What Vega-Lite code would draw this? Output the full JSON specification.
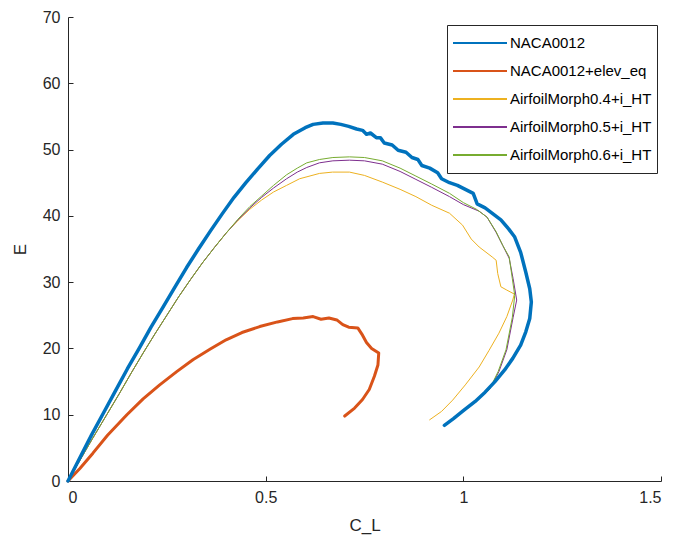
{
  "$schema": "https://vega.github.io/schema/vega-lite/v6.json",
  "autosize": "none",
  "width": 593,
  "height": 464,
  "padding": {"left": 68, "top": 17, "right": 15, "bottom": 63},
  "background": "white",
  "config": {
    "view": {"stroke": null},
    "font": "Liberation Sans",
    "axis": {
      "grid": false,
      "domainColor": "#262626",
      "tickColor": "#262626",
      "labelColor": "#262626",
      "titleColor": "#262626",
      "labelFont": "Liberation Sans",
      "titleFont": "Liberation Sans",
      "labelFontSize": 16,
      "titleFontSize": 17,
      "titleFontWeight": "normal",
      "tickSize": -5,
      "labelPadding": 13
    },
    "legend": {
      "labelFont": "Liberation Sans",
      "labelFontSize": 15,
      "labelColor": "#000000"
    }
  },
  "datasets": {
    "pts": [
      {"s": "NACA0012", "cl": 0, "e": 0},
      {"s": "NACA0012", "cl": 0.03, "e": 3.5},
      {"s": "NACA0012", "cl": 0.06, "e": 7.0},
      {"s": "NACA0012", "cl": 0.09, "e": 10.3},
      {"s": "NACA0012", "cl": 0.12, "e": 13.6},
      {"s": "NACA0012", "cl": 0.15, "e": 16.9},
      {"s": "NACA0012", "cl": 0.18, "e": 20.0},
      {"s": "NACA0012", "cl": 0.21, "e": 23.2},
      {"s": "NACA0012", "cl": 0.24, "e": 26.2},
      {"s": "NACA0012", "cl": 0.27, "e": 29.2},
      {"s": "NACA0012", "cl": 0.30, "e": 32.2},
      {"s": "NACA0012", "cl": 0.33, "e": 35.0},
      {"s": "NACA0012", "cl": 0.36, "e": 37.7},
      {"s": "NACA0012", "cl": 0.39, "e": 40.3},
      {"s": "NACA0012", "cl": 0.42, "e": 42.8},
      {"s": "NACA0012", "cl": 0.45, "e": 45.0},
      {"s": "NACA0012", "cl": 0.48, "e": 47.1},
      {"s": "NACA0012", "cl": 0.51, "e": 49.1},
      {"s": "NACA0012", "cl": 0.54, "e": 50.8},
      {"s": "NACA0012", "cl": 0.57, "e": 52.3},
      {"s": "NACA0012", "cl": 0.60, "e": 53.3},
      {"s": "NACA0012", "cl": 0.62, "e": 53.8},
      {"s": "NACA0012", "cl": 0.645, "e": 54.0},
      {"s": "NACA0012", "cl": 0.67, "e": 54.0},
      {"s": "NACA0012", "cl": 0.69, "e": 53.8},
      {"s": "NACA0012", "cl": 0.71, "e": 53.5},
      {"s": "NACA0012", "cl": 0.73, "e": 53.1},
      {"s": "NACA0012", "cl": 0.745, "e": 52.9},
      {"s": "NACA0012", "cl": 0.755, "e": 52.3},
      {"s": "NACA0012", "cl": 0.765, "e": 52.5},
      {"s": "NACA0012", "cl": 0.78, "e": 51.8},
      {"s": "NACA0012", "cl": 0.79, "e": 51.8},
      {"s": "NACA0012", "cl": 0.80, "e": 51.0},
      {"s": "NACA0012", "cl": 0.82, "e": 50.7},
      {"s": "NACA0012", "cl": 0.835, "e": 49.9},
      {"s": "NACA0012", "cl": 0.855, "e": 49.6},
      {"s": "NACA0012", "cl": 0.87, "e": 48.8},
      {"s": "NACA0012", "cl": 0.885, "e": 48.5},
      {"s": "NACA0012", "cl": 0.895, "e": 47.6},
      {"s": "NACA0012", "cl": 0.915, "e": 47.2},
      {"s": "NACA0012", "cl": 0.935, "e": 46.5},
      {"s": "NACA0012", "cl": 0.945, "e": 45.6},
      {"s": "NACA0012", "cl": 0.965, "e": 45.0},
      {"s": "NACA0012", "cl": 0.985, "e": 44.6},
      {"s": "NACA0012", "cl": 1.005, "e": 44.0},
      {"s": "NACA0012", "cl": 1.025, "e": 43.4},
      {"s": "NACA0012", "cl": 1.035, "e": 41.8},
      {"s": "NACA0012", "cl": 1.055, "e": 41.2},
      {"s": "NACA0012", "cl": 1.075, "e": 40.3},
      {"s": "NACA0012", "cl": 1.095, "e": 39.4},
      {"s": "NACA0012", "cl": 1.115, "e": 38.0},
      {"s": "NACA0012", "cl": 1.13, "e": 36.8},
      {"s": "NACA0012", "cl": 1.145, "e": 34.5},
      {"s": "NACA0012", "cl": 1.158, "e": 31.5},
      {"s": "NACA0012", "cl": 1.168, "e": 29.0},
      {"s": "NACA0012", "cl": 1.172, "e": 27.0},
      {"s": "NACA0012", "cl": 1.168, "e": 24.5},
      {"s": "NACA0012", "cl": 1.158, "e": 22.5},
      {"s": "NACA0012", "cl": 1.145, "e": 20.5},
      {"s": "NACA0012", "cl": 1.125, "e": 18.5},
      {"s": "NACA0012", "cl": 1.105, "e": 16.8},
      {"s": "NACA0012", "cl": 1.08, "e": 15.0},
      {"s": "NACA0012", "cl": 1.055, "e": 13.4},
      {"s": "NACA0012", "cl": 1.03, "e": 12.0},
      {"s": "NACA0012", "cl": 1.0, "e": 10.6},
      {"s": "NACA0012", "cl": 0.975, "e": 9.4},
      {"s": "NACA0012", "cl": 0.952, "e": 8.4},

      {"s": "NACA0012+elev_eq", "cl": 0, "e": 0},
      {"s": "NACA0012+elev_eq", "cl": 0.03, "e": 1.9},
      {"s": "NACA0012+elev_eq", "cl": 0.063, "e": 4.2},
      {"s": "NACA0012+elev_eq", "cl": 0.10, "e": 6.9},
      {"s": "NACA0012+elev_eq", "cl": 0.149, "e": 10.0},
      {"s": "NACA0012+elev_eq", "cl": 0.19, "e": 12.4},
      {"s": "NACA0012+elev_eq", "cl": 0.232, "e": 14.5},
      {"s": "NACA0012+elev_eq", "cl": 0.275, "e": 16.5},
      {"s": "NACA0012+elev_eq", "cl": 0.316, "e": 18.3},
      {"s": "NACA0012+elev_eq", "cl": 0.36, "e": 19.9},
      {"s": "NACA0012+elev_eq", "cl": 0.40, "e": 21.3},
      {"s": "NACA0012+elev_eq", "cl": 0.44, "e": 22.4},
      {"s": "NACA0012+elev_eq", "cl": 0.485, "e": 23.3},
      {"s": "NACA0012+elev_eq", "cl": 0.53, "e": 24.0},
      {"s": "NACA0012+elev_eq", "cl": 0.568, "e": 24.5},
      {"s": "NACA0012+elev_eq", "cl": 0.595, "e": 24.6},
      {"s": "NACA0012+elev_eq", "cl": 0.62, "e": 24.8},
      {"s": "NACA0012+elev_eq", "cl": 0.64, "e": 24.4},
      {"s": "NACA0012+elev_eq", "cl": 0.66, "e": 24.6},
      {"s": "NACA0012+elev_eq", "cl": 0.68, "e": 24.3},
      {"s": "NACA0012+elev_eq", "cl": 0.695, "e": 23.6},
      {"s": "NACA0012+elev_eq", "cl": 0.71, "e": 23.2},
      {"s": "NACA0012+elev_eq", "cl": 0.733, "e": 23.1},
      {"s": "NACA0012+elev_eq", "cl": 0.745, "e": 22.0},
      {"s": "NACA0012+elev_eq", "cl": 0.755, "e": 20.9},
      {"s": "NACA0012+elev_eq", "cl": 0.768, "e": 20.0},
      {"s": "NACA0012+elev_eq", "cl": 0.786, "e": 19.3},
      {"s": "NACA0012+elev_eq", "cl": 0.784, "e": 17.5},
      {"s": "NACA0012+elev_eq", "cl": 0.775, "e": 15.8},
      {"s": "NACA0012+elev_eq", "cl": 0.762, "e": 13.8},
      {"s": "NACA0012+elev_eq", "cl": 0.745, "e": 12.3},
      {"s": "NACA0012+elev_eq", "cl": 0.725, "e": 11.0},
      {"s": "NACA0012+elev_eq", "cl": 0.70, "e": 9.8},

      {"s": "AirfoilMorph0.4+i_HT", "cl": 0, "e": 0},
      {"s": "AirfoilMorph0.4+i_HT", "cl": 0.03, "e": 3.1},
      {"s": "AirfoilMorph0.4+i_HT", "cl": 0.06, "e": 6.2},
      {"s": "AirfoilMorph0.4+i_HT", "cl": 0.098, "e": 10.0},
      {"s": "AirfoilMorph0.4+i_HT", "cl": 0.13, "e": 13.2},
      {"s": "AirfoilMorph0.4+i_HT", "cl": 0.16, "e": 16.3},
      {"s": "AirfoilMorph0.4+i_HT", "cl": 0.19, "e": 19.3},
      {"s": "AirfoilMorph0.4+i_HT", "cl": 0.22, "e": 22.2},
      {"s": "AirfoilMorph0.4+i_HT", "cl": 0.25, "e": 25.0},
      {"s": "AirfoilMorph0.4+i_HT", "cl": 0.28, "e": 27.8},
      {"s": "AirfoilMorph0.4+i_HT", "cl": 0.31, "e": 30.4},
      {"s": "AirfoilMorph0.4+i_HT", "cl": 0.34, "e": 32.9},
      {"s": "AirfoilMorph0.4+i_HT", "cl": 0.37, "e": 35.2},
      {"s": "AirfoilMorph0.4+i_HT", "cl": 0.40, "e": 37.4},
      {"s": "AirfoilMorph0.4+i_HT", "cl": 0.43, "e": 39.3},
      {"s": "AirfoilMorph0.4+i_HT", "cl": 0.46, "e": 41.0},
      {"s": "AirfoilMorph0.4+i_HT", "cl": 0.49, "e": 42.4},
      {"s": "AirfoilMorph0.4+i_HT", "cl": 0.52, "e": 43.6},
      {"s": "AirfoilMorph0.4+i_HT", "cl": 0.553, "e": 44.6},
      {"s": "AirfoilMorph0.4+i_HT", "cl": 0.586, "e": 45.6},
      {"s": "AirfoilMorph0.4+i_HT", "cl": 0.636, "e": 46.4},
      {"s": "AirfoilMorph0.4+i_HT", "cl": 0.669, "e": 46.6},
      {"s": "AirfoilMorph0.4+i_HT", "cl": 0.712, "e": 46.6},
      {"s": "AirfoilMorph0.4+i_HT", "cl": 0.75, "e": 46.1},
      {"s": "AirfoilMorph0.4+i_HT", "cl": 0.795, "e": 45.1},
      {"s": "AirfoilMorph0.4+i_HT", "cl": 0.84, "e": 44.0},
      {"s": "AirfoilMorph0.4+i_HT", "cl": 0.88, "e": 42.9},
      {"s": "AirfoilMorph0.4+i_HT", "cl": 0.92, "e": 41.6},
      {"s": "AirfoilMorph0.4+i_HT", "cl": 0.965, "e": 40.4},
      {"s": "AirfoilMorph0.4+i_HT", "cl": 0.998, "e": 38.6},
      {"s": "AirfoilMorph0.4+i_HT", "cl": 1.02, "e": 36.5},
      {"s": "AirfoilMorph0.4+i_HT", "cl": 1.04, "e": 35.3},
      {"s": "AirfoilMorph0.4+i_HT", "cl": 1.073, "e": 33.8},
      {"s": "AirfoilMorph0.4+i_HT", "cl": 1.083, "e": 33.3},
      {"s": "AirfoilMorph0.4+i_HT", "cl": 1.087, "e": 31.3},
      {"s": "AirfoilMorph0.4+i_HT", "cl": 1.095, "e": 29.3},
      {"s": "AirfoilMorph0.4+i_HT", "cl": 1.11, "e": 28.8},
      {"s": "AirfoilMorph0.4+i_HT", "cl": 1.129, "e": 28.2},
      {"s": "AirfoilMorph0.4+i_HT", "cl": 1.125, "e": 27.3},
      {"s": "AirfoilMorph0.4+i_HT", "cl": 1.11, "e": 24.8},
      {"s": "AirfoilMorph0.4+i_HT", "cl": 1.09, "e": 22.3},
      {"s": "AirfoilMorph0.4+i_HT", "cl": 1.065, "e": 19.7},
      {"s": "AirfoilMorph0.4+i_HT", "cl": 1.04, "e": 17.2},
      {"s": "AirfoilMorph0.4+i_HT", "cl": 1.005, "e": 14.5},
      {"s": "AirfoilMorph0.4+i_HT", "cl": 0.973, "e": 12.2},
      {"s": "AirfoilMorph0.4+i_HT", "cl": 0.945, "e": 10.5},
      {"s": "AirfoilMorph0.4+i_HT", "cl": 0.914, "e": 9.2},

      {"s": "AirfoilMorph0.5+i_HT", "cl": 0, "e": 0},
      {"s": "AirfoilMorph0.5+i_HT", "cl": 0.03, "e": 3.1},
      {"s": "AirfoilMorph0.5+i_HT", "cl": 0.06, "e": 6.2},
      {"s": "AirfoilMorph0.5+i_HT", "cl": 0.098, "e": 10.0},
      {"s": "AirfoilMorph0.5+i_HT", "cl": 0.13, "e": 13.2},
      {"s": "AirfoilMorph0.5+i_HT", "cl": 0.16, "e": 16.3},
      {"s": "AirfoilMorph0.5+i_HT", "cl": 0.19, "e": 19.3},
      {"s": "AirfoilMorph0.5+i_HT", "cl": 0.22, "e": 22.2},
      {"s": "AirfoilMorph0.5+i_HT", "cl": 0.25, "e": 25.0},
      {"s": "AirfoilMorph0.5+i_HT", "cl": 0.28, "e": 27.8},
      {"s": "AirfoilMorph0.5+i_HT", "cl": 0.31, "e": 30.4},
      {"s": "AirfoilMorph0.5+i_HT", "cl": 0.34, "e": 32.9},
      {"s": "AirfoilMorph0.5+i_HT", "cl": 0.37, "e": 35.2},
      {"s": "AirfoilMorph0.5+i_HT", "cl": 0.40, "e": 37.4},
      {"s": "AirfoilMorph0.5+i_HT", "cl": 0.43, "e": 39.4},
      {"s": "AirfoilMorph0.5+i_HT", "cl": 0.46, "e": 41.2},
      {"s": "AirfoilMorph0.5+i_HT", "cl": 0.49, "e": 42.8},
      {"s": "AirfoilMorph0.5+i_HT", "cl": 0.52, "e": 44.2},
      {"s": "AirfoilMorph0.5+i_HT", "cl": 0.553, "e": 45.6},
      {"s": "AirfoilMorph0.5+i_HT", "cl": 0.58, "e": 46.6},
      {"s": "AirfoilMorph0.5+i_HT", "cl": 0.604, "e": 47.3},
      {"s": "AirfoilMorph0.5+i_HT", "cl": 0.636, "e": 48.0},
      {"s": "AirfoilMorph0.5+i_HT", "cl": 0.67, "e": 48.3},
      {"s": "AirfoilMorph0.5+i_HT", "cl": 0.712, "e": 48.4},
      {"s": "AirfoilMorph0.5+i_HT", "cl": 0.75, "e": 48.3},
      {"s": "AirfoilMorph0.5+i_HT", "cl": 0.795, "e": 47.8},
      {"s": "AirfoilMorph0.5+i_HT", "cl": 0.84, "e": 46.7},
      {"s": "AirfoilMorph0.5+i_HT", "cl": 0.88, "e": 45.5},
      {"s": "AirfoilMorph0.5+i_HT", "cl": 0.92, "e": 44.3},
      {"s": "AirfoilMorph0.5+i_HT", "cl": 0.965, "e": 42.9},
      {"s": "AirfoilMorph0.5+i_HT", "cl": 1.0, "e": 41.7},
      {"s": "AirfoilMorph0.5+i_HT", "cl": 1.04, "e": 40.7},
      {"s": "AirfoilMorph0.5+i_HT", "cl": 1.06, "e": 39.8},
      {"s": "AirfoilMorph0.5+i_HT", "cl": 1.083, "e": 37.5},
      {"s": "AirfoilMorph0.5+i_HT", "cl": 1.1, "e": 35.5},
      {"s": "AirfoilMorph0.5+i_HT", "cl": 1.116, "e": 33.6},
      {"s": "AirfoilMorph0.5+i_HT", "cl": 1.126, "e": 30.5},
      {"s": "AirfoilMorph0.5+i_HT", "cl": 1.135, "e": 27.3},
      {"s": "AirfoilMorph0.5+i_HT", "cl": 1.126, "e": 24.7},
      {"s": "AirfoilMorph0.5+i_HT", "cl": 1.11, "e": 19.8},
      {"s": "AirfoilMorph0.5+i_HT", "cl": 1.09, "e": 16.5},
      {"s": "AirfoilMorph0.5+i_HT", "cl": 1.066, "e": 13.8},
      {"s": "AirfoilMorph0.5+i_HT", "cl": 1.03, "e": 12.0},
      {"s": "AirfoilMorph0.5+i_HT", "cl": 1.0, "e": 10.6},
      {"s": "AirfoilMorph0.5+i_HT", "cl": 0.975, "e": 9.4},
      {"s": "AirfoilMorph0.5+i_HT", "cl": 0.952, "e": 8.4},

      {"s": "AirfoilMorph0.6+i_HT", "cl": 0, "e": 0},
      {"s": "AirfoilMorph0.6+i_HT", "cl": 0.03, "e": 3.1},
      {"s": "AirfoilMorph0.6+i_HT", "cl": 0.06, "e": 6.2},
      {"s": "AirfoilMorph0.6+i_HT", "cl": 0.098, "e": 10.0},
      {"s": "AirfoilMorph0.6+i_HT", "cl": 0.13, "e": 13.2},
      {"s": "AirfoilMorph0.6+i_HT", "cl": 0.16, "e": 16.3},
      {"s": "AirfoilMorph0.6+i_HT", "cl": 0.19, "e": 19.3},
      {"s": "AirfoilMorph0.6+i_HT", "cl": 0.22, "e": 22.2},
      {"s": "AirfoilMorph0.6+i_HT", "cl": 0.25, "e": 25.0},
      {"s": "AirfoilMorph0.6+i_HT", "cl": 0.28, "e": 27.8},
      {"s": "AirfoilMorph0.6+i_HT", "cl": 0.31, "e": 30.4},
      {"s": "AirfoilMorph0.6+i_HT", "cl": 0.34, "e": 32.9},
      {"s": "AirfoilMorph0.6+i_HT", "cl": 0.37, "e": 35.2},
      {"s": "AirfoilMorph0.6+i_HT", "cl": 0.40, "e": 37.4},
      {"s": "AirfoilMorph0.6+i_HT", "cl": 0.43, "e": 39.5},
      {"s": "AirfoilMorph0.6+i_HT", "cl": 0.46, "e": 41.4},
      {"s": "AirfoilMorph0.6+i_HT", "cl": 0.49, "e": 43.0},
      {"s": "AirfoilMorph0.6+i_HT", "cl": 0.52, "e": 44.6},
      {"s": "AirfoilMorph0.6+i_HT", "cl": 0.553, "e": 46.2},
      {"s": "AirfoilMorph0.6+i_HT", "cl": 0.58, "e": 47.2},
      {"s": "AirfoilMorph0.6+i_HT", "cl": 0.604, "e": 48.0},
      {"s": "AirfoilMorph0.6+i_HT", "cl": 0.636, "e": 48.5},
      {"s": "AirfoilMorph0.6+i_HT", "cl": 0.67, "e": 48.8},
      {"s": "AirfoilMorph0.6+i_HT", "cl": 0.712, "e": 48.9},
      {"s": "AirfoilMorph0.6+i_HT", "cl": 0.75, "e": 48.8},
      {"s": "AirfoilMorph0.6+i_HT", "cl": 0.795, "e": 48.3},
      {"s": "AirfoilMorph0.6+i_HT", "cl": 0.84, "e": 47.2},
      {"s": "AirfoilMorph0.6+i_HT", "cl": 0.88, "e": 46.0},
      {"s": "AirfoilMorph0.6+i_HT", "cl": 0.92, "e": 44.8},
      {"s": "AirfoilMorph0.6+i_HT", "cl": 0.965, "e": 43.4},
      {"s": "AirfoilMorph0.6+i_HT", "cl": 1.0, "e": 42.0},
      {"s": "AirfoilMorph0.6+i_HT", "cl": 1.033, "e": 41.0},
      {"s": "AirfoilMorph0.6+i_HT", "cl": 1.06, "e": 39.8},
      {"s": "AirfoilMorph0.6+i_HT", "cl": 1.083, "e": 37.6},
      {"s": "AirfoilMorph0.6+i_HT", "cl": 1.1, "e": 35.5},
      {"s": "AirfoilMorph0.6+i_HT", "cl": 1.116, "e": 33.8},
      {"s": "AirfoilMorph0.6+i_HT", "cl": 1.124, "e": 30.5},
      {"s": "AirfoilMorph0.6+i_HT", "cl": 1.13, "e": 28.0},
      {"s": "AirfoilMorph0.6+i_HT", "cl": 1.124, "e": 24.7},
      {"s": "AirfoilMorph0.6+i_HT", "cl": 1.108, "e": 19.8},
      {"s": "AirfoilMorph0.6+i_HT", "cl": 1.088, "e": 16.5},
      {"s": "AirfoilMorph0.6+i_HT", "cl": 1.066, "e": 13.8},
      {"s": "AirfoilMorph0.6+i_HT", "cl": 1.03, "e": 12.0},
      {"s": "AirfoilMorph0.6+i_HT", "cl": 1.0, "e": 10.6},
      {"s": "AirfoilMorph0.6+i_HT", "cl": 0.975, "e": 9.4},
      {"s": "AirfoilMorph0.6+i_HT", "cl": 0.952, "e": 8.4}
    ]
  },
  "data": {"name": "pts"},
  "encoding": {
    "x": {
      "field": "cl", "type": "quantitative",
      "scale": {"domain": [0, 1.5], "nice": false, "zero": false},
      "axis": {"values": [0, 0.5, 1, 1.5], "format": "~g", "title": "C_L", "titlePadding": 12}
    },
    "y": {
      "field": "e", "type": "quantitative",
      "scale": {"domain": [0, 70], "nice": false, "zero": false},
      "axis": {"values": [0, 10, 20, 30, 40, 50, 60, 70], "title": "E", "titlePadding": 13}
    },
    "order": {"value": null},
    "color": {
      "field": "s", "type": "nominal",
      "scale": {
        "domain": ["NACA0012", "NACA0012+elev_eq", "AirfoilMorph0.4+i_HT", "AirfoilMorph0.5+i_HT", "AirfoilMorph0.6+i_HT"],
        "range": ["#0072BD", "#D95319", "#EDB120", "#7E2F8E", "#77AC30"]
      },
      "legend": {
        "title": null,
        "orient": "none",
        "legendX": 379,
        "legendY": 8,
        "symbolType": "stroke",
        "symbolSize": 2916,
        "symbolStrokeWidth": 2,
        "clipHeight": 26,
        "rowPadding": 2,
        "padding": 5,
        "strokeColor": "#262626",
        "fillColor": "white",
        "labelOffset": 2
      }
    }
  },
  "layer": [
    {
      "transform": [{"filter": "datum.s !== 'NACA0012' && datum.s !== 'NACA0012+elev_eq'"}],
      "mark": {"type": "line", "strokeWidth": 1, "strokeJoin": "round"}
    },
    {
      "transform": [{"filter": "datum.s === 'NACA0012+elev_eq'"}],
      "mark": {"type": "line", "strokeWidth": 3, "strokeJoin": "round", "strokeCap": "round"}
    },
    {
      "transform": [{"filter": "datum.s === 'NACA0012'"}],
      "mark": {"type": "line", "strokeWidth": 3.5, "strokeJoin": "round", "strokeCap": "round"}
    }
  ]
}
